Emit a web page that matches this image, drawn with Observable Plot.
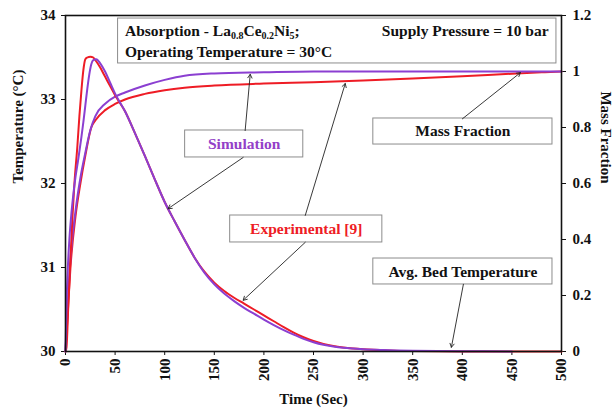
<!DOCTYPE html>
<html>
<head>
<meta charset="utf-8">
<script src="https://cdn.jsdelivr.net/npm/d3@7"></script>
<script src="https://cdn.jsdelivr.net/npm/@observablehq/plot@0.6"></script>
<style>
  body { margin: 0; background: #fff; }
</style>
</head>
<body>
<div id="chart"></div>
<script>
// Average bed temperature (°C) – simulation
const simTime = [0, 1, 2, 4, 6, 8, 10, 13, 16, 18, 20, 22, 24, 26, 28, 31, 35, 40, 45, 50, 60, 70, 80, 90, 100, 110, 120, 130, 140, 150, 160, 170, 180, 190, 200, 210, 220, 230, 240, 250, 260, 270, 280, 290, 300, 320, 350, 400, 450];
const simTemp = [30, 30.55, 30.9, 31.35, 31.65, 31.88, 32.07, 32.3, 32.55, 32.73, 32.93, 33.13, 33.3, 33.42, 33.47, 33.48, 33.43, 33.33, 33.2, 33.07, 32.86, 32.6, 32.33, 32.05, 31.78, 31.55, 31.33, 31.12, 30.94, 30.8, 30.69, 30.6, 30.52, 30.45, 30.38, 30.315, 30.255, 30.2, 30.15, 30.11, 30.08, 30.06, 30.045, 30.035, 30.027, 30.017, 30.008, 30.003, 30.0];

// Average bed temperature (°C) – experimental
const expTime = [0, 1, 3, 5, 7, 9, 12, 14, 16, 18, 20, 22, 25, 28, 30, 35, 40, 45, 50, 60, 70, 80, 90, 100, 110, 120, 130, 140, 150, 160, 170, 180, 190, 200, 210, 220, 230, 240, 250, 260, 270, 280, 290, 300, 325, 350, 400, 500];
const expTemp = [30, 30.05, 30.6, 31.1, 31.6, 32.0, 32.45, 32.8, 33.1, 33.35, 33.48, 33.5, 33.51, 33.5, 33.47, 33.38, 33.27, 33.16, 33.05, 32.86, 32.6, 32.33, 32.05, 31.78, 31.55, 31.33, 31.12, 30.95, 30.82, 30.72, 30.64, 30.57, 30.5, 30.43, 30.36, 30.29, 30.225, 30.17, 30.125, 30.09, 30.065, 30.048, 30.036, 30.027, 30.013, 30.005, 30, 30];

// Mass fraction – simulation
const simMassTime = [0, 2, 5, 10, 15, 20, 25, 30, 40, 50, 60, 80, 100, 120, 150, 200, 250, 300, 400, 500];
const simMass = [0, 0.15, 0.33, 0.5, 0.62, 0.71, 0.79, 0.84, 0.885, 0.91, 0.925, 0.95, 0.97, 0.985, 0.993, 0.997, 1.0, 1.0, 1.0, 1.0];

// Mass fraction – experimental
const expMassTime = [0, 2, 5, 10, 15, 20, 26, 30, 40, 50, 60, 80, 100, 120, 150, 200, 250, 300, 350, 400, 450, 480, 500];
const expMass = [0, 0.12, 0.3, 0.48, 0.6, 0.7, 0.8, 0.825, 0.862, 0.884, 0.9, 0.92, 0.933, 0.942, 0.95, 0.957, 0.962, 0.968, 0.975, 0.983, 0.992, 0.997, 1.0];

// Axis ticks
const timeTicks = [0, 50, 100, 150, 200, 250, 300, 350, 400, 450, 500];
const tempTicks = [30, 31, 32, 33, 34];
const massTicks = [0, 0.2, 0.4, 0.6, 0.8, 1, 1.2];

// Annotation boxes (time, temperature units)
const boxX1 = [53, 120.6, 310.3, 166, 310.3];
const boxX2 = [494.9, 239.7, 490.9, 319.4, 490.9];
const boxY1 = [33.429, 32.31, 32.464, 31.298, 30.798];
const boxY2 = [33.964, 32.631, 32.774, 31.619, 31.107];

// Annotation labels
const labelText = ["Simulation", "Mass Fraction", "Experimental [9]", "Avg. Bed Temperature"];
const labelX = [180.1, 400.6, 242.7, 400.6];
const labelY = [32.47, 32.619, 31.458, 30.952];
const labelColor = ["#9340c8", "#111111", "#ee1c25", "#111111"];

// Header lines inside the top box
const headerText = ["Absorption - La0.8Ce0.2Ni5;", "Operating Temperature = 30°C"];
const headerX = [60, 60];
const headerY = [33.815, 33.565];
const pressureText = "Supply Pressure = 10 bar";
const pressureX = 487;
const pressureY = 33.815;

// Leader arrows
const arrowX1 = [181.1, 179.1, 241.7, 241.7, 400.1, 401.1];
const arrowY1 = [32.63, 32.31, 31.62, 31.30, 32.77, 30.80];
const arrowX2 = [186.2, 103.4, 282.0, 179.1, 458.6, 389.0];
const arrowY2 = [33.30, 31.70, 33.19, 30.61, 33.32, 30.05];

// Mass fraction 0..1.2 shares the plot with temperature 30..34
const massToTemp = m => 30 + m * 4 / 1.2;
const tempToMass = t => Math.round((t - 30) * 1.2 / 4 * 10) / 10;

const red = "#ee1c25";
const purple = "#8b3fd1";

const seq = (xs, ys) => xs.map((x, i) => ({x, y: ys[i]}));
const simT = seq(simTime, simTemp);
const expT = seq(expTime, expTemp);
const simM = seq(simMassTime, simMass.map(massToTemp));
const expM = seq(expMassTime, expMass.map(massToTemp));
const boxes = boxX1.map((x1, i) => ({x1, x2: boxX2[i], y1: boxY1[i], y2: boxY2[i]}));
const labels = labelText.map((t, i) => ({t, x: labelX[i], y: labelY[i], c: labelColor[i]}));
const headers = headerText.map((t, i) => ({t, x: headerX[i], y: headerY[i]}));
const arrows = arrowX1.map((x1, i) => ({x1, y1: arrowY1[i], x2: arrowX2[i], y2: arrowY2[i]}));

const font = "'Liberation Serif', 'Times New Roman', serif";

const chart = Plot.plot({
  width: 614,
  height: 410,
  marginLeft: 65,
  marginRight: 53,
  marginTop: 15,
  marginBottom: 59,
  x: {domain: [0, 500]},
  y: {domain: [30, 34]},
  style: {fontFamily: font, fontSize: "15px", fontWeight: "bold", color: "#111", background: "#fff"},
  marks: [
    Plot.axisX({ticks: timeTicks, tickRotate: -90, tickSize: 4, tickPadding: 3, label: null, tickFormat: d => String(d)}),
    Plot.axisY({ticks: tempTicks, tickSize: 4, tickPadding: 6, label: null, tickFormat: d => String(d)}),
    Plot.axisY({anchor: "right", ticks: massTicks.map(massToTemp), tickFormat: tempToMass, tickSize: 4, tickPadding: 7, label: null}),
    Plot.text(["Temperature (°C)"], {frameAnchor: "left", text: d => d, rotate: -90, dx: -47, fontSize: 15, fontWeight: "bold"}),
    Plot.text(["Mass Fraction"], {frameAnchor: "right", text: d => d, rotate: 90, dx: 44, fontSize: 15, fontWeight: "bold"}),
    Plot.text(["Time (Sec)"], {frameAnchor: "bottom", text: d => d, dy: 52, fontSize: 15, fontWeight: "bold"}),
    Plot.line(expM, {x: "x", y: "y", stroke: red, strokeWidth: 2, curve: "monotone-x"}),
    Plot.line(simM, {x: "x", y: "y", stroke: purple, strokeWidth: 2, curve: "monotone-x"}),
    Plot.line(expT, {x: "x", y: "y", stroke: red, strokeWidth: 2, curve: "monotone-x"}),
    Plot.line(simT, {x: "x", y: "y", stroke: purple, strokeWidth: 2, curve: "monotone-x"}),
    Plot.rect(boxes, {x1: "x1", x2: "x2", y1: "y1", y2: "y2", fill: "#fff", stroke: "#8c8c8c", strokeWidth: 1}),
    Plot.text(headers, {x: "x", y: "y", text: "t", textAnchor: "start", fill: "#111", fontSize: 15.5, fontWeight: "bold"}),
    Plot.text([pressureText], {x: () => pressureX, y: () => pressureY, text: d => d, textAnchor: "end", fill: "#111", fontSize: 15.5, fontWeight: "bold"}),
    Plot.text(labels, {x: "x", y: "y", text: "t", fill: "c", fontSize: 15.5, fontWeight: "bold"}),
    Plot.arrow(arrows, {x1: "x1", y1: "y1", x2: "x2", y2: "y2", stroke: "#222", strokeWidth: 0.9, headLength: 7}),
    Plot.frame({stroke: "#111", strokeWidth: 1.6})
  ]
});

// Chemical formula subscripts
d3.select(chart).selectAll("text").each(function () {
  if (this.textContent === "Absorption - La0.8Ce0.2Ni5;") {
    const el = d3.select(this);
    el.text(null);
    const parts = [["Absorption - La", 0], ["0.8", 1], ["Ce", -1], ["0.2", 1], ["Ni", -1], ["5", 1], [";", -1]];
    for (const [s, shift] of parts) {
      const ts = el.append("tspan").text(s);
      if (shift === 1) ts.attr("dy", "3").attr("font-size", "10px");
      if (shift === -1) ts.attr("dy", "-3");
    }
  }
});

document.getElementById("chart").appendChild(chart);
</script>
</body>
</html>
